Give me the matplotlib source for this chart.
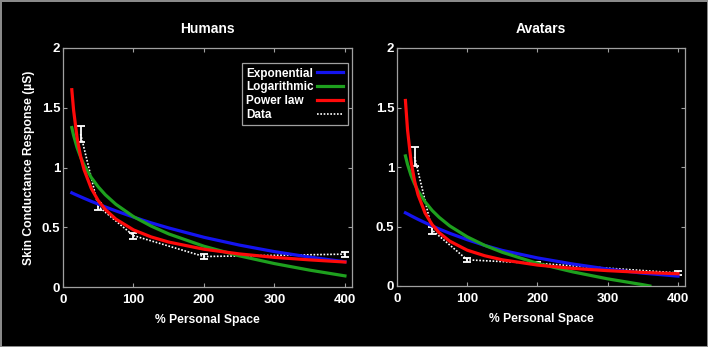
import matplotlib
matplotlib.use("Agg")
import matplotlib.pyplot as plt

plt.rcParams["font.family"] = ["Liberation Sans", "DejaVu Sans"]
plt.rcParams["font.weight"] = "bold"

# data points (% personal space)
data_x = [25, 50, 100, 200, 400]
hum_y = [1.28, 0.675, 0.43, 0.255, 0.275]
hum_err = [0.07, 0.03, 0.025, 0.02, 0.02]
ava_y = [1.085, 0.47, 0.22, 0.19, 0.11]
ava_err = [0.08, 0.03, 0.015, 0.015, 0.015]

# fitted curves
hum_fx = [12.5, 15, 20, 25, 30, 40, 50, 60, 75, 100, 125, 150, 200, 250, 300, 350, 400]
hum_exp = [0.788, 0.781, 0.768, 0.755, 0.742, 0.717, 0.694, 0.670, 0.637, 0.585,
           0.537, 0.494, 0.416, 0.351, 0.296, 0.250, 0.211]
hum_log = [1.334, 1.269, 1.166, 1.086, 1.020, 0.917, 0.838, 0.772, 0.692, 0.589,
           0.510, 0.444, 0.341, 0.261, 0.196, 0.141, 0.093]
hum_pow = [1.651, 1.481, 1.248, 1.092, 0.980, 0.826, 0.723, 0.648, 0.568, 0.478,
           0.419, 0.376, 0.316, 0.277, 0.248, 0.227, 0.209]

ava_fx = [12, 15, 20, 25, 30, 40, 50, 60, 75, 100, 125, 150, 200, 250, 300, 350, 400]
ava_exp = [0.615, 0.606, 0.590, 0.575, 0.560, 0.532, 0.505, 0.479, 0.443, 0.389,
           0.341, 0.299, 0.236, 0.185, 0.142, 0.108, 0.083]
ava_pow = [1.559, 1.311, 1.049, 0.883, 0.766, 0.613, 0.516, 0.448, 0.377, 0.301,
           0.254, 0.220, 0.176, 0.148, 0.129, 0.114, 0.103]
ava_lx = [12, 15, 20, 25, 30, 40, 50, 60, 75, 100, 125, 150, 200, 250, 300, 350, 360]
ava_log = [1.093, 1.022, 0.929, 0.858, 0.799, 0.707, 0.635, 0.577, 0.505, 0.413,
           0.341, 0.283, 0.190, 0.119, 0.060, 0.011, 0.0]

c_blue = "#1414f0"
c_green = "#1ea01e"
c_red = "#ff0a0a"
c_grey = "#a0a0a0"

fig = plt.figure(figsize=(7.08, 3.47), dpi=100, facecolor="black")
fig.patch.set_edgecolor("#8a8a8a")
fig.patch.set_linewidth(2)

ax1 = fig.add_axes([63/708, 1-287/347, 289/708, 239/347])
ax2 = fig.add_axes([397/708, 1-286/347, 288/708, 238/347])


def draw(ax, y, err, fx, fexp, lx, flog, fpow, title):
    ax.set_facecolor("black")
    ax.plot(data_x, y, ls=(0, (1, 1)), color="white", lw=1.2, zorder=2)
    ax.errorbar(data_x, y, yerr=err, fmt="none", ecolor="white", elinewidth=1.3,
                capsize=3, capthick=1.3, zorder=2)
    l1, = ax.plot(fx, fexp, color=c_blue, lw=2.3, zorder=3)
    l2, = ax.plot(lx, flog, color=c_green, lw=2.3, zorder=3)
    l3, = ax.plot(fx, fpow, color=c_red, lw=2.3, zorder=4)
    ax.set_xlim(0, 410)
    ax.set_ylim(0, 2)
    ax.set_xticks([0, 100, 200, 300, 400])
    ax.set_yticks([0, 0.5, 1, 1.5, 2])
    ax.set_yticklabels(["0", "0.5", "1", "1.5", "2"])
    ax.tick_params(direction="in", length=3, width=0.8, color=c_grey,
                   top=True, right=True, labelcolor="white", labelsize=9.5)
    ax.tick_params(axis="x", pad=5)
    ax.tick_params(axis="y", pad=2)
    for lab in ax.get_xticklabels() + ax.get_yticklabels():
        lab.set_fontweight("bold")
    for s in ax.spines.values():
        s.set_color(c_grey)
        s.set_linewidth(0.9)
    ax.set_title(title, color="white", fontsize=10, fontweight="bold", pad=11)
    ax.set_xlabel("% Personal Space", color="white", fontsize=8.7,
                  fontweight="bold", labelpad=6)
    return l1, l2, l3


h = draw(ax1, hum_y, hum_err, hum_fx, hum_exp, hum_fx, hum_log, hum_pow, "Humans")
draw(ax2, ava_y, ava_err, ava_fx, ava_exp, ava_lx, ava_log, ava_pow, "Avatars")
ax1.set_ylabel("Skin Conductance Response (\u00b5S)", color="white", fontsize=8.7,
               fontweight="bold", labelpad=5)

dline, = ax1.plot([], [], ls=(0, (1, 1)), color="white", lw=1.2)
leg = ax1.legend([h[0], h[1], h[2], dline],
                 ["Exponential", "Logarithmic", "Power law", "Data"],
                 loc="upper right", bbox_to_anchor=(1.005, 0.96),
                 markerfirst=False, handlelength=2.2, handletextpad=0.3,
                 labelspacing=0.15, borderpad=0.35, fancybox=False,
                 facecolor="black", edgecolor=c_grey, framealpha=1,
                 prop={"weight": "bold", "size": 8.5})
for t in leg.get_texts():
    t.set_color("white")
leg.get_frame().set_linewidth(0.9)

# left-align the legend texts while keeping the line samples in one column
fig.canvas.draw()
r = fig.canvas.get_renderer()
col = leg._legend_handle_box.get_children()[0]
items = col.get_children()
wmax = max(it.get_bbox(r).width for it in items)
col.width = wmax
for it in items:
    it.mode = "expand"

fig.savefig("out.png", dpi=100, facecolor="black", edgecolor=fig.get_edgecolor())
